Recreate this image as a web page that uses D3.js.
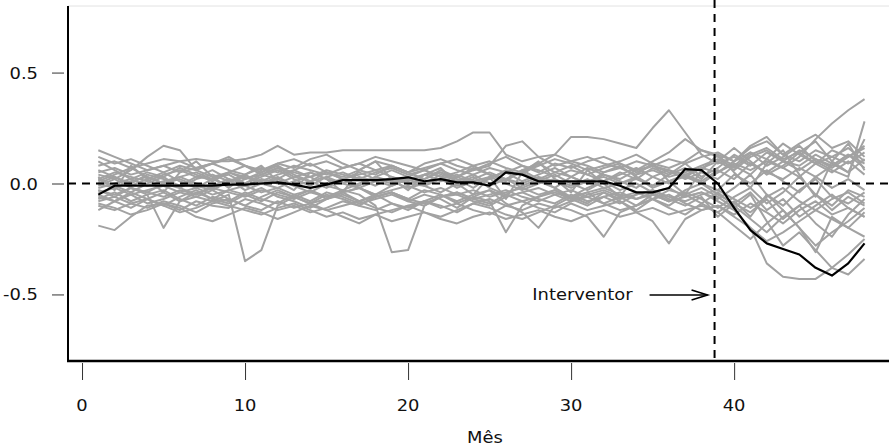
<!DOCTYPE html>
<html>
<head>
<meta charset="utf-8">
<script src="https://cdn.jsdelivr.net/npm/d3@7"></script>
<style>
  html, body { margin: 0; padding: 0; background: #fff; }
  svg { display: block; }
  text { font-family: "DejaVu Sans", sans-serif; font-size: 16px; fill: #111; }
</style>
</head>
<body>
<svg id="chart" width="889" height="447"></svg>
<script>
// Months of the study window
const months = d3.range(1, 49);

// Gap between the treated unit and its synthetic control
const treated = [
  -0.05, -0.01, -0.01, -0.01, -0.01, -0.01, -0.01, -0.01, -0.005, -0.005, 0.0, 0.005,
  -0.005, -0.02, -0.005, 0.015, 0.015, 0.015, 0.02, 0.028, 0.01, 0.02, 0.005, 0.005,
  -0.01, 0.05, 0.04, 0.01, 0.01, 0.01, 0.01, 0.01, -0.01, -0.04, -0.04, -0.02,
  0.065, 0.06, 0.0, -0.11, -0.21, -0.27, -0.295, -0.32, -0.38, -0.415, -0.36, -0.27
];

// Placebo gaps for each donor unit
const p01 = [-0.19,-0.21,-0.15,-0.1,-0.09,-0.12,-0.08,-0.1,-0.11,-0.07,-0.09,-0.12,
  -0.1,-0.13,-0.11,-0.08,-0.1,-0.12,-0.09,-0.11,-0.08,-0.1,-0.13,-0.09,
  -0.07,-0.1,-0.12,-0.09,-0.11,-0.08,-0.06,-0.09,-0.12,-0.1,-0.07,-0.05,
  -0.09,-0.12,-0.1,-0.15,-0.2,-0.26,-0.22,-0.17,-0.12,-0.16,-0.2,-0.13];
const p02 = [0.04,0.02,0.06,0.12,0.17,0.15,0.06,0.03,0.05,0.02,0.04,0.07,
  0.05,0.03,0.06,0.04,0.02,0.05,0.07,0.04,0.06,0.03,0.05,0.08,
  0.04,0.02,0.06,0.09,0.05,0.03,0.07,0.04,0.02,0.06,0.08,0.05,
  0.03,0.07,0.1,0.06,0.12,0.15,0.1,0.08,0.13,0.09,0.05,0.11];
const p03 = [-0.06,-0.08,-0.05,-0.09,-0.07,-0.04,-0.06,-0.08,-0.05,-0.35,-0.3,-0.1,
  -0.06,-0.09,-0.07,-0.05,-0.08,-0.06,-0.04,-0.07,-0.09,-0.06,-0.05,-0.08,
  -0.1,-0.06,-0.04,-0.07,-0.09,-0.05,-0.08,-0.06,-0.04,-0.07,-0.05,-0.08,
  -0.06,-0.04,-0.07,-0.02,0.04,-0.05,-0.1,-0.03,0.02,-0.06,-0.09,-0.04];
const p04 = [0.08,0.1,0.07,0.09,0.11,0.1,0.11,0.1,0.1,0.11,0.13,0.17,
  0.13,0.14,0.14,0.15,0.15,0.15,0.15,0.15,0.15,0.16,0.19,0.23,
  0.23,0.13,0.1,0.12,0.08,0.1,0.12,0.09,0.07,0.1,0.08,0.11,
  0.09,0.12,0.14,0.1,0.16,0.19,0.13,0.1,0.15,0.12,0.09,0.14];
const p05 = [-0.03,-0.05,-0.02,-0.04,-0.06,-0.03,-0.05,-0.02,-0.04,-0.06,-0.03,-0.05,
  -0.07,-0.04,-0.06,-0.03,-0.05,-0.1,-0.31,-0.3,-0.1,-0.06,-0.04,-0.07,
  -0.05,-0.03,-0.06,-0.08,-0.05,-0.03,-0.06,-0.04,-0.07,-0.05,-0.03,-0.06,
  -0.08,-0.05,-0.03,-0.07,-0.11,-0.06,-0.02,-0.08,-0.12,-0.07,-0.04,-0.09];
const p06 = [0.02,0.05,0.03,0.01,0.04,0.06,0.03,0.02,0.05,0.03,0.01,0.04,
  0.06,0.03,0.05,0.02,0.04,0.06,0.03,0.01,0.04,0.05,0.03,0.06,
  0.08,0.17,0.19,0.12,0.13,0.1,0.08,0.05,0.07,0.04,0.06,0.03,
  0.05,0.08,0.11,0.07,0.13,0.16,0.11,0.14,0.09,0.12,0.16,0.1];
const p07 = [0.0,-0.02,0.01,0.03,0.0,-0.02,0.02,0.04,0.01,-0.01,0.02,0.0,
  0.03,0.05,0.02,0.0,0.03,0.01,-0.01,0.02,0.04,0.01,0.03,0.0,
  0.02,0.06,0.04,0.09,0.13,0.21,0.21,0.2,0.18,0.16,0.25,0.33,
  0.23,0.13,0.09,0.12,0.08,0.14,0.1,0.06,0.11,0.08,0.13,0.07];
const p08 = [-0.08,-0.06,-0.09,-0.11,-0.08,-0.1,-0.13,-0.09,-0.07,-0.1,-0.12,-0.08,
  -0.11,-0.09,-0.12,-0.1,-0.08,-0.11,-0.13,-0.1,-0.08,-0.11,-0.09,-0.12,
  -0.14,-0.1,-0.08,-0.11,-0.13,-0.09,-0.12,-0.1,-0.08,-0.13,-0.17,-0.27,
  -0.16,-0.12,-0.1,-0.14,-0.09,-0.13,-0.18,-0.12,-0.08,-0.14,-0.11,-0.15];
const p09 = [-0.04,-0.02,-0.05,-0.03,-0.01,-0.04,-0.02,-0.05,-0.03,-0.01,-0.04,-0.02,
  -0.05,-0.03,-0.06,-0.04,-0.02,-0.05,-0.03,-0.01,-0.04,-0.02,-0.05,-0.03,
  -0.06,-0.04,-0.02,-0.05,-0.03,-0.06,-0.04,-0.02,-0.05,-0.07,-0.04,-0.02,
  -0.06,-0.04,-0.08,-0.12,-0.2,-0.36,-0.42,-0.43,-0.43,-0.38,-0.32,-0.25];
const p10 = [0.05,0.07,0.04,0.06,0.08,0.05,0.07,0.09,0.06,0.04,0.07,0.05,
  0.08,0.06,0.04,0.07,0.09,0.06,0.08,0.05,0.07,0.09,0.06,0.04,
  0.07,0.05,0.08,0.06,0.03,0.06,0.04,0.07,0.09,0.05,0.08,0.06,
  0.04,0.07,0.05,0.09,0.06,0.1,0.07,0.12,0.2,0.27,0.33,0.38];
const p11 = [-0.02,0.0,0.02,-0.01,0.01,0.03,0.0,-0.02,0.01,0.03,0.0,0.02,
  -0.01,0.01,0.03,0.0,-0.02,0.01,0.02,0.0,-0.01,0.02,0.04,0.01,
  -0.01,0.02,0.0,0.03,0.01,-0.02,0.01,0.03,0.0,0.02,-0.01,0.01,
  0.03,0.0,0.05,0.1,0.14,0.08,0.12,0.17,0.1,0.06,0.03,0.28];
const p12 = [-0.1,-0.12,-0.09,-0.07,-0.1,-0.13,-0.11,-0.08,-0.1,-0.12,-0.14,-0.11,
  -0.09,-0.12,-0.15,-0.13,-0.16,-0.14,-0.17,-0.15,-0.13,-0.16,-0.18,-0.15,
  -0.13,-0.16,-0.14,-0.12,-0.15,-0.17,-0.14,-0.12,-0.15,-0.13,-0.11,-0.14,
  -0.12,-0.1,-0.13,-0.08,-0.15,-0.05,-0.12,-0.2,-0.31,-0.15,-0.2,-0.24];
const p13 = [0.15,0.12,0.09,0.06,0.08,0.1,0.07,0.09,0.11,0.08,0.06,0.09,
  0.11,0.08,0.1,0.07,0.09,0.12,0.1,0.08,0.06,0.09,0.11,0.08,
  0.1,0.07,0.05,0.08,0.11,0.09,0.06,0.08,0.1,0.13,0.09,0.07,
  0.1,0.15,0.12,0.08,0.14,0.11,0.18,0.13,0.09,0.15,0.12,0.17];
const p14 = [0.03,-0.03,0.08,0.02,-0.04,0.05,0.1,0.03,-0.02,0.04,0.08,0.01,
  -0.03,0.05,0.02,-0.04,0.06,0.1,0.02,-0.03,0.04,0.07,0.0,-0.05,
  0.03,-0.07,0.05,0.1,0.02,-0.04,0.06,0.0,-0.06,0.04,0.09,0.01,
  -0.05,0.06,0.13,0.05,-0.02,0.09,0.15,0.04,-0.06,0.1,0.18,0.06];
const p15 = [-0.12,-0.08,-0.04,-0.07,-0.1,-0.06,-0.03,-0.07,-0.09,-0.05,-0.02,-0.06,
  -0.08,-0.11,-0.07,-0.04,-0.08,-0.05,-0.09,-0.12,-0.08,-0.05,-0.09,-0.06,
  -0.03,-0.09,-0.13,-0.2,-0.1,-0.06,-0.09,-0.04,-0.08,-0.12,-0.07,-0.1,
  -0.05,-0.09,-0.04,-0.1,-0.16,-0.22,-0.15,-0.1,-0.18,-0.24,-0.14,-0.07];
const p16 = [0.1,0.06,0.02,0.05,0.03,0.07,0.04,0.01,0.05,0.08,0.04,0.02,
  0.06,0.09,0.05,0.03,0.06,0.04,0.08,0.05,0.02,0.06,0.03,0.07,
  0.04,0.01,0.06,0.02,0.05,0.08,0.04,0.01,0.05,0.02,0.07,0.04,
  0.09,0.03,0.07,0.13,0.09,0.05,0.1,0.15,0.11,0.07,0.12,0.16];
const p17 = [-0.05,-0.08,-0.11,-0.07,-0.04,-0.08,-0.06,-0.03,-0.07,-0.1,-0.06,-0.03,
  -0.06,-0.09,-0.05,-0.07,-0.1,-0.06,-0.04,-0.08,-0.05,-0.07,-0.11,-0.06,
  -0.08,-0.22,-0.1,-0.06,-0.03,-0.07,-0.04,-0.09,-0.06,-0.1,-0.05,-0.08,
  -0.04,-0.07,-0.11,-0.06,-0.02,-0.09,-0.04,0.03,-0.05,-0.1,-0.03,-0.06];
const p18 = [0.0,0.03,-0.01,0.02,0.05,0.01,-0.02,0.02,0.04,0.0,0.03,0.06,
  0.02,-0.01,0.03,0.05,0.02,-0.01,0.03,0.0,0.02,0.05,0.01,0.04,
  0.0,0.02,0.05,0.01,-0.02,0.03,0.0,0.04,0.01,-0.02,0.03,0.06,
  0.02,0.05,0.02,0.08,0.04,0.11,0.07,0.03,0.09,0.05,0.1,0.04];
const p19 = [-0.03,-0.06,-0.02,-0.05,-0.2,-0.08,-0.04,-0.07,-0.03,-0.05,-0.08,-0.04,
  -0.06,-0.03,-0.07,-0.04,-0.02,-0.06,-0.04,-0.07,-0.03,-0.05,-0.08,-0.05,
  -0.03,-0.06,-0.04,-0.02,-0.05,-0.08,-0.05,-0.03,-0.06,-0.04,-0.07,-0.03,
  -0.05,-0.02,-0.06,-0.11,-0.05,-0.17,-0.28,-0.22,-0.3,-0.38,-0.41,-0.34];
const p20 = [0.06,0.03,0.0,0.04,0.02,-0.01,0.03,0.06,0.02,0.0,0.04,0.07,
  0.03,0.01,0.05,0.02,-0.01,0.03,0.06,0.03,0.0,0.04,0.02,-0.02,
  0.03,0.05,0.01,0.04,0.07,0.03,0.0,0.05,0.08,0.03,-0.01,0.04,
  0.07,0.02,0.1,0.16,0.1,0.04,0.08,0.14,0.19,0.1,0.05,0.2];
const p21 = [-0.07,-0.04,-0.08,-0.05,-0.03,-0.07,-0.1,-0.06,-0.08,-0.04,-0.07,-0.09,
  -0.05,-0.08,-0.04,-0.06,-0.09,-0.07,-0.05,-0.08,-0.1,-0.06,-0.04,-0.07,
  -0.09,-0.05,-0.08,-0.06,-0.04,-0.07,-0.1,-0.06,-0.09,-0.05,-0.03,-0.07,
  -0.1,-0.06,-0.15,-0.09,-0.04,-0.12,-0.07,-0.15,-0.1,-0.05,-0.11,-0.15];
const p22 = [0.12,0.09,0.11,0.08,0.05,0.08,0.06,0.09,0.12,0.08,0.05,0.09,
  0.07,0.11,0.13,0.09,0.06,0.1,0.08,0.05,0.09,0.11,0.08,0.06,
  0.09,0.12,0.08,0.05,0.09,0.07,0.1,0.12,0.09,0.06,0.1,0.14,
  0.2,0.15,0.13,0.1,0.17,0.21,0.13,0.18,0.22,0.16,0.19,0.12];
const p23 = [0.02,-0.01,-0.04,0.0,0.03,-0.02,-0.05,-0.01,0.02,-0.03,0.0,0.03,
  -0.01,-0.04,0.0,0.02,-0.02,-0.05,-0.01,0.02,-0.01,-0.04,0.0,0.03,
  -0.02,-0.05,-0.01,0.02,-0.02,-0.06,-0.02,0.01,-0.03,0.0,-0.04,-0.08,
  -0.03,0.0,-0.05,-0.09,-0.13,-0.07,-0.16,-0.1,-0.05,-0.12,-0.06,-0.1];
const p24 = [-0.09,-0.11,-0.14,-0.12,-0.09,-0.11,-0.15,-0.17,-0.14,-0.11,-0.13,-0.16,
  -0.13,-0.1,-0.12,-0.15,-0.18,-0.14,-0.12,-0.1,-0.13,-0.15,-0.12,-0.09,
  -0.11,-0.14,-0.16,-0.13,-0.1,-0.12,-0.15,-0.24,-0.13,-0.1,-0.07,-0.11,
  -0.14,-0.09,-0.13,-0.19,-0.25,-0.18,-0.12,-0.2,-0.28,-0.22,-0.17,-0.11];
const p25 = [0.01,0.04,0.07,0.03,0.0,0.03,0.05,0.02,-0.01,0.02,0.05,0.08,
  0.04,0.01,-0.02,0.02,0.05,0.02,0.0,0.03,0.06,0.03,-0.01,0.02,
  0.05,0.02,-0.02,0.01,0.04,0.0,-0.03,0.01,0.04,0.07,0.03,0.0,
  0.04,0.01,0.06,0.02,0.09,0.05,0.02,0.07,0.03,0.08,0.13,0.09];
const p26 = [-0.01,0.02,-0.02,-0.04,0.0,0.02,-0.01,-0.03,0.01,0.04,0.0,-0.02,
  0.01,0.03,-0.01,-0.03,0.0,0.03,0.01,-0.02,0.0,0.02,-0.02,0.01,
  0.03,0.0,-0.03,0.0,0.02,-0.01,0.02,-0.02,0.0,0.03,-0.02,0.01,
  0.04,0.0,-0.03,0.04,0.0,0.06,0.01,-0.04,0.03,-0.02,0.02,-0.03];

const placebos = [p01,p02,p03,p04,p05,p06,p07,p08,p09,p10,p11,p12,p13,
  p14,p15,p16,p17,p18,p19,p20,p21,p22,p23,p24,p25,p26];

// Axis ticks, intervention month and labels
const xTicks = [0, 10, 20, 30, 40];
const yTicks = [-0.5, 0.0, 0.5];
const interventionMonth = 38.8;
const xTitle = "Mês";
const noteText = "Interventor";
const noteValue = -0.5;

const svg = d3.select("#chart");
const plotLeft = 68, plotRight = 889, plotTop = 6, plotBottom = 361;

const x = d3.scaleLinear().domain([-0.86, 49.5]).range([plotLeft, plotRight]);
const y = d3.scaleLinear().domain([-0.8, 0.8]).range([plotBottom, plotTop]);

// horizontal stretch used for all text
const sx = 1.12;
function stretchedText(g, tx, ty, str, anchor) {
  return g.append("text")
    .attr("transform", `translate(${tx},${ty}) scale(${sx},1)`)
    .attr("text-anchor", anchor)
    .text(str);
}

// faint top border
svg.append("line")
  .attr("x1", plotLeft).attr("x2", plotRight).attr("y1", plotTop).attr("y2", plotTop)
  .attr("stroke", "#e2e2e2").attr("stroke-width", 1);

const line = d3.line().x((d, i) => x(months[i])).y(d => y(d));

// placebo lines
svg.append("g").selectAll("path").data(placebos).join("path")
  .attr("d", line)
  .attr("fill", "none")
  .attr("stroke", "#a2a2a2")
  .attr("stroke-width", 2)
  .attr("stroke-linejoin", "round");

// zero reference
svg.append("line")
  .attr("x1", plotLeft).attr("x2", plotRight).attr("y1", y(0)).attr("y2", y(0))
  .attr("stroke", "#000").attr("stroke-width", 2).attr("stroke-dasharray", "8,6");

// treated unit
svg.append("path")
  .datum(treated)
  .attr("d", line)
  .attr("fill", "none")
  .attr("stroke", "#000")
  .attr("stroke-width", 2.2)
  .attr("stroke-linejoin", "round");

// intervention marker
svg.append("line")
  .attr("x1", x(interventionMonth)).attr("x2", x(interventionMonth))
  .attr("y1", 0).attr("y2", plotBottom)
  .attr("stroke", "#000").attr("stroke-width", 2).attr("stroke-dasharray", "8,6");

// annotation arrow
const ay = y(noteValue) + 0.5;
const ax1 = x(interventionMonth) - 65, ax2 = x(interventionMonth) - 7;
svg.append("line")
  .attr("x1", ax1).attr("x2", ax2).attr("y1", ay).attr("y2", ay)
  .attr("stroke", "#000").attr("stroke-width", 1.6);
svg.append("path")
  .attr("d", `M${ax2 - 16},${ay - 5}L${ax2},${ay}L${ax2 - 16},${ay + 5}`)
  .attr("fill", "none").attr("stroke", "#000").attr("stroke-width", 1.6);
stretchedText(svg, ax1 - 17, ay + 5, noteText, "end");

// axes
const yAxis = d3.axisLeft(y).tickValues(yTicks).tickSize(12)
  .tickFormat(d3.format(".1f"));
const gy = svg.append("g").attr("transform", `translate(${plotLeft - 4},0)`).call(yAxis);
gy.select(".domain").remove();
gy.selectAll(".tick line").attr("stroke", "#333");
gy.selectAll(".tick text").remove();
yTicks.forEach(v => {
  stretchedText(svg, 38, y(v) + 6, d3.format(".1f")(v).replace("\u2212", "-"), "end");
});

const xAxis = d3.axisBottom(x).tickValues(xTicks).tickSize(17);
const gx = svg.append("g").attr("transform", `translate(0,${plotBottom + 2})`).call(xAxis);
gx.select(".domain").remove();
gx.selectAll(".tick line").attr("stroke", "#333");
gx.selectAll(".tick text").remove();
xTicks.forEach(v => stretchedText(svg, x(v), 411, String(v), "middle"));

svg.append("line")
  .attr("x1", plotLeft).attr("x2", plotLeft).attr("y1", plotTop).attr("y2", plotBottom + 1)
  .attr("stroke", "#000").attr("stroke-width", 2);
svg.append("line")
  .attr("x1", plotLeft - 1).attr("x2", plotRight).attr("y1", plotBottom).attr("y2", plotBottom)
  .attr("stroke", "#000").attr("stroke-width", 2.4);

stretchedText(svg, 485, 443, xTitle, "middle");
</script>
</body>
</html>
